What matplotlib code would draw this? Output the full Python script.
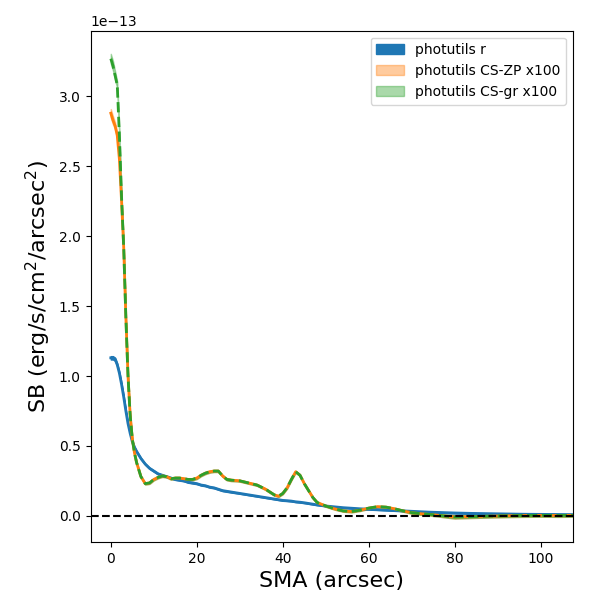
import numpy as np
import matplotlib
matplotlib.use('Agg')
import matplotlib.pyplot as plt

# surface brightness profiles, values in units of 1e-13 erg/s/cm2/arcsec2
sma = [0, 0.5, 1, 1.5, 2, 2.5, 3, 3.5, 4, 4.5, 5, 5.5, 6,
       7, 8, 9, 10, 11, 12, 13, 14, 15, 16, 17, 18, 19, 20, 21, 22, 23, 24, 25, 26, 27, 28,
       30, 32, 34, 36, 38,
       39, 40, 41, 42, 43, 44, 45, 46, 47, 48,
       50, 52, 54, 56, 58, 60, 62, 64, 66, 68, 70, 72, 74, 76, 78, 80,
       84, 88, 92, 96, 100, 104, 108]

sb_r = [1.13, 1.13, 1.12, 1.08, 1.02, 0.94, 0.85, 0.75, 0.66, 0.59, 0.53, 0.49, 0.46,
        0.41, 0.37, 0.34, 0.32, 0.30, 0.29, 0.28, 0.27, 0.26, 0.255, 0.25, 0.24, 0.235, 0.23, 0.22, 0.215, 0.205, 0.20, 0.19, 0.18, 0.175, 0.17,
        0.16, 0.15, 0.14, 0.13, 0.12,
        0.115, 0.11, 0.108, 0.105, 0.10, 0.097, 0.093, 0.088, 0.083, 0.078,
        0.07, 0.064, 0.058, 0.054, 0.05, 0.047, 0.044, 0.041, 0.038, 0.035, 0.032, 0.029, 0.026, 0.024, 0.022, 0.02,
        0.017, 0.015, 0.013, 0.011, 0.01, 0.009, 0.008]

sb_zp = [2.88, 2.83, 2.79, 2.72, 2.55, 2.25, 1.92, 1.42, 1.00, 0.72, 0.55, 0.45, 0.38,
         0.28, 0.23, 0.235, 0.26, 0.275, 0.285, 0.28, 0.265, 0.27, 0.27, 0.265, 0.26, 0.26, 0.27, 0.29, 0.305, 0.315, 0.32, 0.32, 0.285, 0.26, 0.255,
         0.25, 0.235, 0.22, 0.19, 0.15,
         0.14, 0.16, 0.20, 0.26, 0.315, 0.29, 0.23, 0.18, 0.13, 0.095,
         0.07, 0.05, 0.035, 0.03, 0.04, 0.055, 0.065, 0.062, 0.05, 0.035, 0.022, 0.015, 0.01, 0.004, -0.003, -0.008,
         -0.006, -0.003, 0.0, 0.002, 0.003, 0.002, 0.003]

sb_gr = [3.27, 3.22, 3.15, 3.08, 2.72, 2.28, 1.92, 1.42, 1.00, 0.72, 0.55, 0.45, 0.38,
         0.28, 0.23, 0.235, 0.26, 0.275, 0.285, 0.28, 0.265, 0.27, 0.27, 0.265, 0.26, 0.26, 0.27, 0.29, 0.305, 0.315, 0.32, 0.32, 0.285, 0.26, 0.255,
         0.25, 0.235, 0.22, 0.19, 0.15,
         0.14, 0.16, 0.20, 0.26, 0.315, 0.29, 0.23, 0.18, 0.13, 0.095,
         0.07, 0.05, 0.035, 0.03, 0.04, 0.055, 0.065, 0.062, 0.05, 0.035, 0.022, 0.015, 0.01, 0.004, -0.003, -0.008,
         -0.006, -0.003, 0.0, 0.002, 0.003, 0.002, 0.003]

# error bands
err_r = [0.012, 0.012, 0.011, 0.011, 0.010, 0.010, 0.009, 0.008, 0.008, 0.007, 0.007, 0.006, 0.006,
         0.006, 0.005, 0.005, 0.005, 0.005, 0.004, 0.004, 0.004, 0.004, 0.004, 0.004, 0.004, 0.004, 0.004, 0.004, 0.004, 0.004, 0.004, 0.004, 0.004, 0.004, 0.004,
         0.003, 0.003, 0.003, 0.003, 0.003,
         0.003, 0.003, 0.003, 0.003, 0.003, 0.003, 0.003, 0.003, 0.003, 0.003,
         0.003, 0.003, 0.003, 0.003, 0.003, 0.003, 0.003, 0.003, 0.003, 0.003, 0.003, 0.003, 0.003, 0.003, 0.003, 0.003,
         0.003, 0.003, 0.003, 0.003, 0.003, 0.003, 0.003]

err_zp = [0.03, 0.03, 0.025, 0.02, 0.02, 0.02, 0.02, 0.015, 0.012, 0.01, 0.01, 0.008, 0.008,
          0.007, 0.007, 0.007, 0.007, 0.007, 0.007, 0.007, 0.007, 0.007, 0.007, 0.007, 0.007, 0.007, 0.007, 0.007, 0.007, 0.007, 0.007, 0.007, 0.007, 0.007, 0.007,
          0.006, 0.006, 0.006, 0.006, 0.006,
          0.006, 0.006, 0.006, 0.006, 0.006, 0.006, 0.006, 0.006, 0.006, 0.006,
          0.006, 0.006, 0.006, 0.006, 0.006, 0.006, 0.006, 0.006, 0.006, 0.006, 0.008, 0.008, 0.008, 0.009, 0.01, 0.012,
          0.01, 0.01, 0.01, 0.01, 0.01, 0.01, 0.01]

err_gr = [0.035, 0.035, 0.03, 0.025, 0.02, 0.02, 0.02, 0.015, 0.012, 0.01, 0.01, 0.008, 0.008,
          0.007, 0.007, 0.007, 0.007, 0.007, 0.007, 0.007, 0.007, 0.007, 0.007, 0.007, 0.007, 0.007, 0.007, 0.007, 0.007, 0.007, 0.007, 0.007, 0.007, 0.007, 0.007,
          0.006, 0.006, 0.006, 0.006, 0.006,
          0.006, 0.006, 0.006, 0.006, 0.006, 0.006, 0.006, 0.006, 0.006, 0.006,
          0.006, 0.006, 0.006, 0.006, 0.006, 0.006, 0.006, 0.006, 0.006, 0.006, 0.008, 0.008, 0.008, 0.009, 0.01, 0.012,
          0.01, 0.01, 0.01, 0.01, 0.01, 0.01, 0.01]

scale = 1e-13
x = np.array(sma)
r = np.array(sb_r) * scale
zp = np.array(sb_zp) * scale
gr = np.array(sb_gr) * scale
er = np.array(err_r) * scale
ezp = np.array(err_zp) * scale
egr = np.array(err_gr) * scale

fig = plt.figure(figsize=(6, 6), dpi=100)
ax = fig.add_subplot(111)
fig.subplots_adjust(left=0.151, right=0.955, bottom=0.097, top=0.949)

ax.fill_between(x, r - er, r + er, color='C0', label='photutils r')
ax.plot(x, r, color='C0', lw=2)
ax.fill_between(x, zp - ezp, zp + ezp, color='C1', alpha=0.4, label='photutils CS-ZP x100')
ax.plot(x, zp, color='C1', lw=2)
ax.fill_between(x, gr - egr, gr + egr, color='C2', alpha=0.4, label='photutils CS-gr x100')
ax.plot(x, gr, color='C2', lw=2, ls='--')

ax.axhline(0, color='k', ls='--')

ax.set_xlim(-4.7, 107.5)
ax.set_xlabel('SMA (arcsec)', fontsize=16)
ax.set_ylabel('SB (erg/s/cm$^2$/arcsec$^2$)', fontsize=16)
ax.legend(loc='upper right')

fig.savefig('out.png', dpi=100)
